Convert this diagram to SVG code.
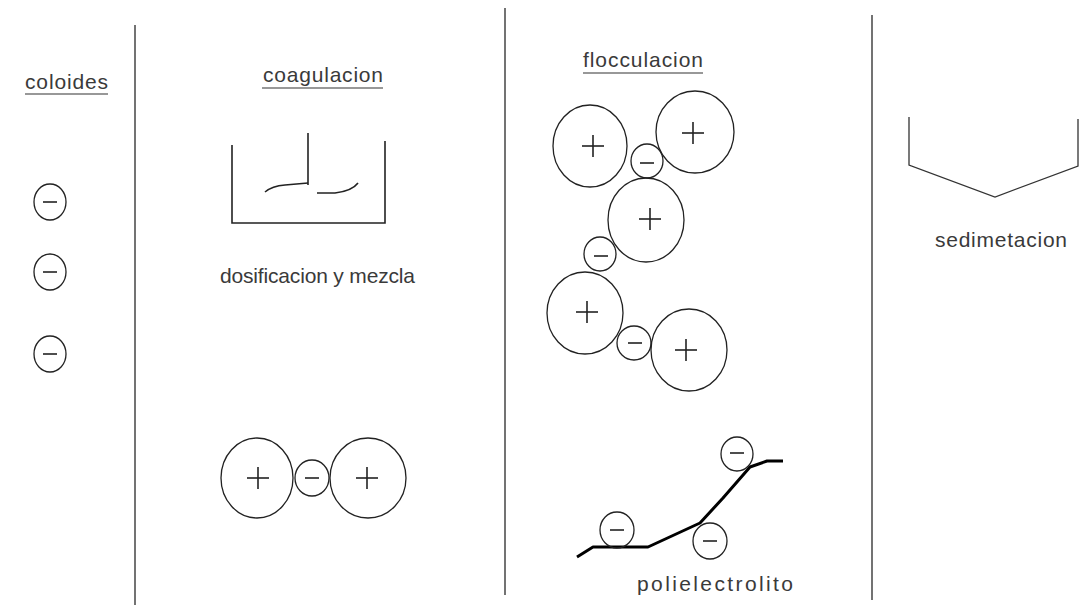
<svg xmlns="http://www.w3.org/2000/svg" width="1085" height="610" viewBox="0 0 1085 610">
<style>
.t{font-family:"Liberation Sans Narrow","Liberation Sans",Arial,sans-serif;font-size:21px;fill:#3a3a3a}
.c{fill:none;stroke:#222;stroke-width:1.3}
.s{fill:none;stroke:#222;stroke-width:1.6}
.d{fill:none;stroke:#444;stroke-width:1.5}
.u{stroke:#333;stroke-width:1.2}
</style>
<defs>
<g id="minus"><line x1="-7" y1="0" x2="7" y2="0" class="s"/></g>
<g id="plus"><line x1="-11" y1="0" x2="11" y2="0" class="s"/><line x1="0" y1="-11" x2="0" y2="11" class="s"/></g>
</defs>
<rect width="1085" height="610" fill="#fff"/>
<g id="dividers">
<line x1="135" y1="25" x2="135" y2="605" class="d"/>
<line x1="505" y1="8" x2="505" y2="595" class="d"/>
<line x1="872" y1="15" x2="872" y2="600" class="d"/>
</g>
<g id="coloides">
<text class="t" x="25" y="89" textLength="83" lengthAdjust="spacing">coloides</text>
<line x1="25" y1="94" x2="108" y2="94" class="u"/>
<ellipse cx="50" cy="202" rx="16" ry="18" class="c"/><use href="#minus" x="50" y="202"/>
<ellipse cx="50" cy="272" rx="16" ry="18" class="c"/><use href="#minus" x="50" y="272"/>
<ellipse cx="50" cy="354" rx="16" ry="18" class="c"/><use href="#minus" x="50" y="354"/>
</g>
<g id="coagulacion">
<text class="t" x="263" y="82" textLength="120" lengthAdjust="spacing">coagulacion</text>
<line x1="262" y1="88" x2="383" y2="88" class="u"/>
<polyline points="232,145 232,223 385,223 385,141" class="s"/>
<line x1="308" y1="133" x2="308" y2="185" class="s"/>
<path d="M265,192 Q272,186 285,185 L308,183" class="s"/>
<path d="M317,193 L335,193 Q352,191 358,183" class="s"/>
<text class="t" x="220" y="283" textLength="195" lengthAdjust="spacing">dosificacion y mezcla</text>
</g>
<g id="coag-pair">
<ellipse cx="257" cy="478" rx="36" ry="40" class="c"/><use href="#plus" x="258" y="478"/>
<ellipse cx="312" cy="478" rx="17" ry="18" class="c"/><use href="#minus" x="312" y="478"/>
<ellipse cx="368" cy="478" rx="38" ry="40" class="c"/><use href="#plus" x="367" y="478"/>
</g>
<g id="flocculacion">
<text class="t" x="583" y="67" textLength="120" lengthAdjust="spacing">flocculacion</text>
<line x1="583" y1="73" x2="703" y2="73" class="u"/>
<ellipse cx="590" cy="146" rx="37" ry="41" class="c"/><use href="#plus" x="593" y="146"/>
<ellipse cx="695" cy="132" rx="39" ry="41" class="c"/><use href="#plus" x="693" y="133"/>
<ellipse cx="647" cy="161" rx="16" ry="17" class="c"/><use href="#minus" x="647" y="163"/>
<ellipse cx="646" cy="220" rx="38" ry="42" class="c"/><use href="#plus" x="650" y="219"/>
<ellipse cx="600" cy="254" rx="16" ry="17" class="c"/><use href="#minus" x="601" y="256"/>
<ellipse cx="585" cy="313" rx="38" ry="41" class="c"/><use href="#plus" x="587" y="312"/>
<ellipse cx="634" cy="343" rx="17" ry="17" class="c"/><use href="#minus" x="635" y="343"/>
<ellipse cx="689" cy="350" rx="38" ry="41" class="c"/><use href="#plus" x="686" y="350"/>
</g>
<g id="polielectrolito">
<polyline points="577,557 593,547 648,547 700,523 723,498 750,467 767,461 783,461" fill="none" stroke="#000" stroke-width="3" stroke-linejoin="round"/>
<ellipse cx="617" cy="530" rx="17" ry="18" class="c"/><use href="#minus" x="617" y="530"/>
<ellipse cx="710" cy="541" rx="17" ry="18" class="c"/><use href="#minus" x="710" y="541"/>
<ellipse cx="737" cy="454" rx="16" ry="17" class="c"/><use href="#minus" x="737" y="453"/>
<text class="t" x="637" y="591" textLength="156" lengthAdjust="spacing">polielectrolito</text>
</g>
<g id="sedimentacion">
<polyline points="909,117 909,165 995,197 1078,166 1078,119" fill="none" stroke="#333" stroke-width="1.3"/>
<text class="t" x="935" y="247" textLength="132" lengthAdjust="spacing">sedimetacion</text>
</g>
</svg>
